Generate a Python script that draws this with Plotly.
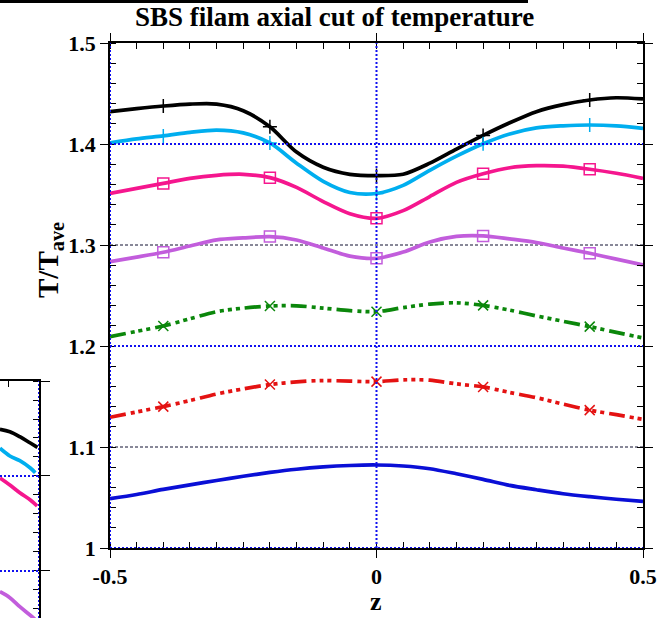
import plotly.graph_objects as go

W, H = 665, 618

# ---------------- data (main panel) ----------------
z = [-0.5, -0.45, -0.4, -0.35, -0.3, -0.25, -0.2, -0.15, -0.1, -0.05, 0.0,
     0.05, 0.1, 0.15, 0.2, 0.25, 0.3, 0.35, 0.4, 0.45, 0.5]

T_black = [1.432, 1.435, 1.4376, 1.4395, 1.4395, 1.433, 1.417, 1.392, 1.377, 1.370, 1.3687,
           1.370, 1.381, 1.395, 1.4085, 1.421, 1.432, 1.439, 1.4436, 1.4458, 1.4446]
T_cyan = [1.401, 1.405, 1.408, 1.4115, 1.4138, 1.411, 1.401, 1.381, 1.363, 1.352, 1.351,
          1.359, 1.374, 1.388, 1.4003, 1.410, 1.416, 1.418, 1.4188, 1.418, 1.4155]
T_pink = [1.351, 1.356, 1.361, 1.366, 1.369, 1.370, 1.3667, 1.357, 1.343, 1.331, 1.3264,
          1.334, 1.348, 1.362, 1.3705, 1.3765, 1.3785, 1.378, 1.375, 1.371, 1.366]
T_purple = [1.2835, 1.288, 1.2928, 1.299, 1.305, 1.307, 1.3083, 1.305, 1.297, 1.289, 1.2868,
            1.293, 1.303, 1.3085, 1.309, 1.306, 1.3025, 1.297, 1.2918, 1.286, 1.2802]
T_green = [1.2092, 1.2145, 1.2198, 1.227, 1.234, 1.2375, 1.2396, 1.2398, 1.2375, 1.235, 1.234,
           1.238, 1.2415, 1.2428, 1.2402, 1.2355, 1.2298, 1.2245, 1.2192, 1.2135, 1.208]
T_red = [1.1294, 1.1347, 1.140, 1.146, 1.1525, 1.1575, 1.1618, 1.1645, 1.1658, 1.1652, 1.1647,
         1.1665, 1.1662, 1.1625, 1.1595, 1.154, 1.1488, 1.1425, 1.1365, 1.132, 1.1274]
T_blue = [1.0488, 1.053, 1.058, 1.0625, 1.0668, 1.071, 1.0748, 1.078, 1.0803, 1.0817, 1.0822,
          1.0812, 1.0785, 1.0735, 1.068, 1.062, 1.0577, 1.0537, 1.0508, 1.0483, 1.0462]

marker_z = [-0.4, -0.2, 0.0, 0.2, 0.4]

x_tickvals = [-0.5, 0.0, 0.5]
x_ticktext = ["-0.5", "0", "0.5"]
y_tickvals = [1.0, 1.1, 1.2, 1.3, 1.4, 1.5]
y_ticktext = ["1", "1.1", "1.2", "1.3", "1.4", "1.5"]

major_grid_T = [1.0, 1.2, 1.4]
minor_grid_T = [1.1, 1.3]
major_grid_z = [-0.5, 0.0]

# ---------------- data (partial neighbouring panel at left edge) ----------------
frag_z_black = [0.437, 0.453, 0.469, 0.486, 0.4975]
frag_T_black = [1.4492, 1.4466, 1.4414, 1.4347, 1.4302]
frag_z_cyan = [0.437, 0.453, 0.469, 0.486, 0.494]
frag_T_cyan = [1.4292, 1.4211, 1.4161, 1.4084, 1.4035]
frag_z_pink = [0.437, 0.453, 0.469, 0.486, 0.497]
frag_T_pink = [1.3979, 1.3905, 1.3824, 1.3747, 1.3684]
frag_z_purple = [0.437, 0.453, 0.469, 0.4887, 0.5]
frag_T_purple = [1.2782, 1.2719, 1.2624, 1.2519, 1.245]
frag_grid_T = [1.3, 1.4]

# ---------------- styles ----------------
C_BLACK = "#000000"
C_CYAN = "#00AEEF"
C_PINK = "#F5168E"
C_PURPLE = "#C25DDC"
C_GREEN = "#0B870B"
C_RED = "#E41212"
C_BLUE = "#0A0FD6"
DASHDOT = "16px,5px,4px,4px,4px,4px,4px,5px"
FONT = "Liberation Serif"

series = [
    (T_black, C_BLACK, "solid", "cross-thin", 10),
    (T_cyan, C_CYAN, "solid", "cross-thin", 10),
    (T_pink, C_PINK, "solid", "square-open", 11),
    (T_purple, C_PURPLE, "solid", "square-open", 11),
    (T_green, C_GREEN, DASHDOT, "x-thin", 10),
    (T_red, C_RED, DASHDOT, "x-thin", 10),
    (T_blue, C_BLUE, "solid", None, 0),
]

fig = go.Figure()

for T, col, dash, sym, size in series:
    fig.add_trace(go.Scatter(x=z, y=T, mode="lines",
                             line=dict(color=col, width=3.7, dash=dash, shape="spline", smoothing=0.8),
                             showlegend=False, hoverinfo="skip"))
    if sym:
        idx = [i for i, v in enumerate(z) if any(abs(v - m) < 1e-9 for m in marker_z)]
        fig.add_trace(go.Scatter(x=[z[i] for i in idx], y=[T[i] for i in idx], mode="markers",
                                 marker=dict(symbol=sym, size=size, color=col,
                                             line=dict(color=col, width=1.5)),
                                 showlegend=False, hoverinfo="skip"))

for fz, fT, col in [(frag_z_black, frag_T_black, C_BLACK), (frag_z_cyan, frag_T_cyan, C_CYAN),
                    (frag_z_pink, frag_T_pink, C_PINK), (frag_z_purple, frag_T_purple, C_PURPLE)]:
    fig.add_trace(go.Scatter(x=fz, y=fT, mode="lines", xaxis="x2", yaxis="y2",
                             line=dict(color=col, width=3.7, shape="spline"),
                             showlegend=False, hoverinfo="skip"))

# grid / reference lines
for t in major_grid_T:
    fig.add_shape(type="line", xref="x domain", yref="y", x0=0, x1=1, y0=t, y1=t,
                  line=dict(color="#1010F0", width=2, dash="2px,2px"), layer="above")
for t in minor_grid_T:
    fig.add_shape(type="line", xref="x domain", yref="y", x0=0, x1=1, y0=t, y1=t,
                  line=dict(color="#101030", width=1, dash="3px,2px"), layer="below")
for v in major_grid_z:
    fig.add_shape(type="line", xref="x", yref="y domain", x0=v, x1=v, y0=0, y1=1,
                  line=dict(color="#1010F0", width=2, dash="2px,2px"), layer="above")
for t in frag_grid_T:
    fig.add_shape(type="line", xref="x2 domain", yref="y2", x0=0, x1=1, y0=t, y1=t,
                  line=dict(color="#1010F0", width=2, dash="2px,2px"), layer="above")
fig.add_shape(type="line", xref="x2", yref="y2 domain", x0=0.5, x1=0.5, y0=0, y1=1,
              line=dict(color="#1010F0", width=2, dash="2px,2px"), layer="above")

# bottom axis line of the panel above (cut off at the top)
fig.add_shape(type="line", xref="paper", yref="paper", x0=0, x1=528 / W, y0=1 - 1.5 / H, y1=1 - 1.5 / H,
              line=dict(color="black", width=3))

tickfont = dict(family=FONT, size=22, color="black", weight="bold")

x_dom = [110 / W, 643 / W]
y_dom = [1 - 548 / H, 1 - 43 / H]

fig.update_layout(
    width=W, height=H,
    margin=dict(l=0, r=0, t=0, b=0, pad=0, autoexpand=False),
    paper_bgcolor="white", plot_bgcolor="white",
    xaxis=dict(domain=x_dom, range=[-0.5, 0.5], anchor="y", automargin=False,
               showline=True, linecolor="black", linewidth=1.5, mirror="allticks",
               ticks="outside", ticklen=8, tickwidth=1.2, tickcolor="black",
               tickvals=x_tickvals, ticktext=x_ticktext, tickfont=tickfont,
               minor=dict(ticks="inside", ticklen=6, tickwidth=1, tickcolor="black", dtick=0.05, tick0=0,
                          showgrid=False),
               showgrid=False, zeroline=False),
    yaxis=dict(domain=y_dom, range=[1.0, 1.5], anchor="x", automargin=False,
               showline=True, linecolor="black", linewidth=1.5, mirror="allticks",
               ticks="outside", ticklen=8, tickwidth=1.2, tickcolor="black",
               tickvals=y_tickvals, ticktext=y_ticktext, tickfont=tickfont,
               minor=dict(ticks="inside", ticklen=6, tickwidth=1, tickcolor="black", dtick=0.02, tick0=1.0,
                          showgrid=False),
               showgrid=False, zeroline=False),
    xaxis2=dict(domain=[0, 39 / W], range=[0.4371, 0.5], anchor="y2", side="top", automargin=False,
                showline=True, linecolor="black", linewidth=1.5,
                ticks="inside", ticklen=6, tickwidth=1, tickcolor="black",
                tickvals=[0.45], showticklabels=False, showgrid=False, zeroline=False),
    yaxis2=dict(domain=[0, 1 - 381 / H], range=[1.2505, 1.5], anchor="x2", side="right", automargin=False,
                showline=True, linecolor="black", linewidth=1.5,
                ticks="outside", ticklen=9, tickwidth=1.2, tickcolor="black",
                tickvals=[1.3, 1.4, 1.5], showticklabels=False,
                minor=dict(ticks="inside", ticklen=6, tickwidth=1, tickcolor="black", dtick=0.02, tick0=1.0,
                           showgrid=False),
                showgrid=False, zeroline=False),
    annotations=[
        dict(text="SBS filam axial cut of temperature", xref="paper", yref="paper",
             x=334 / W, y=1 - 17 / H, xanchor="center", yanchor="middle", showarrow=False,
             font=dict(family=FONT, size=27, color="black", weight="bold")),
        dict(text="z", xref="paper", yref="paper", x=376 / W, y=1 - 601 / H,
             xanchor="center", yanchor="middle", showarrow=False,
             font=dict(family=FONT, size=26, color="black", weight="bold")),
        dict(text="T/T<sub>ave</sub>", xref="paper", yref="paper", x=50 / W, y=1 - 260 / H,
             xanchor="center", yanchor="middle", showarrow=False, textangle=-90,
             font=dict(family=FONT, size=29, color="black", weight="bold")),
    ],
)

fig.write_html("out.html")
